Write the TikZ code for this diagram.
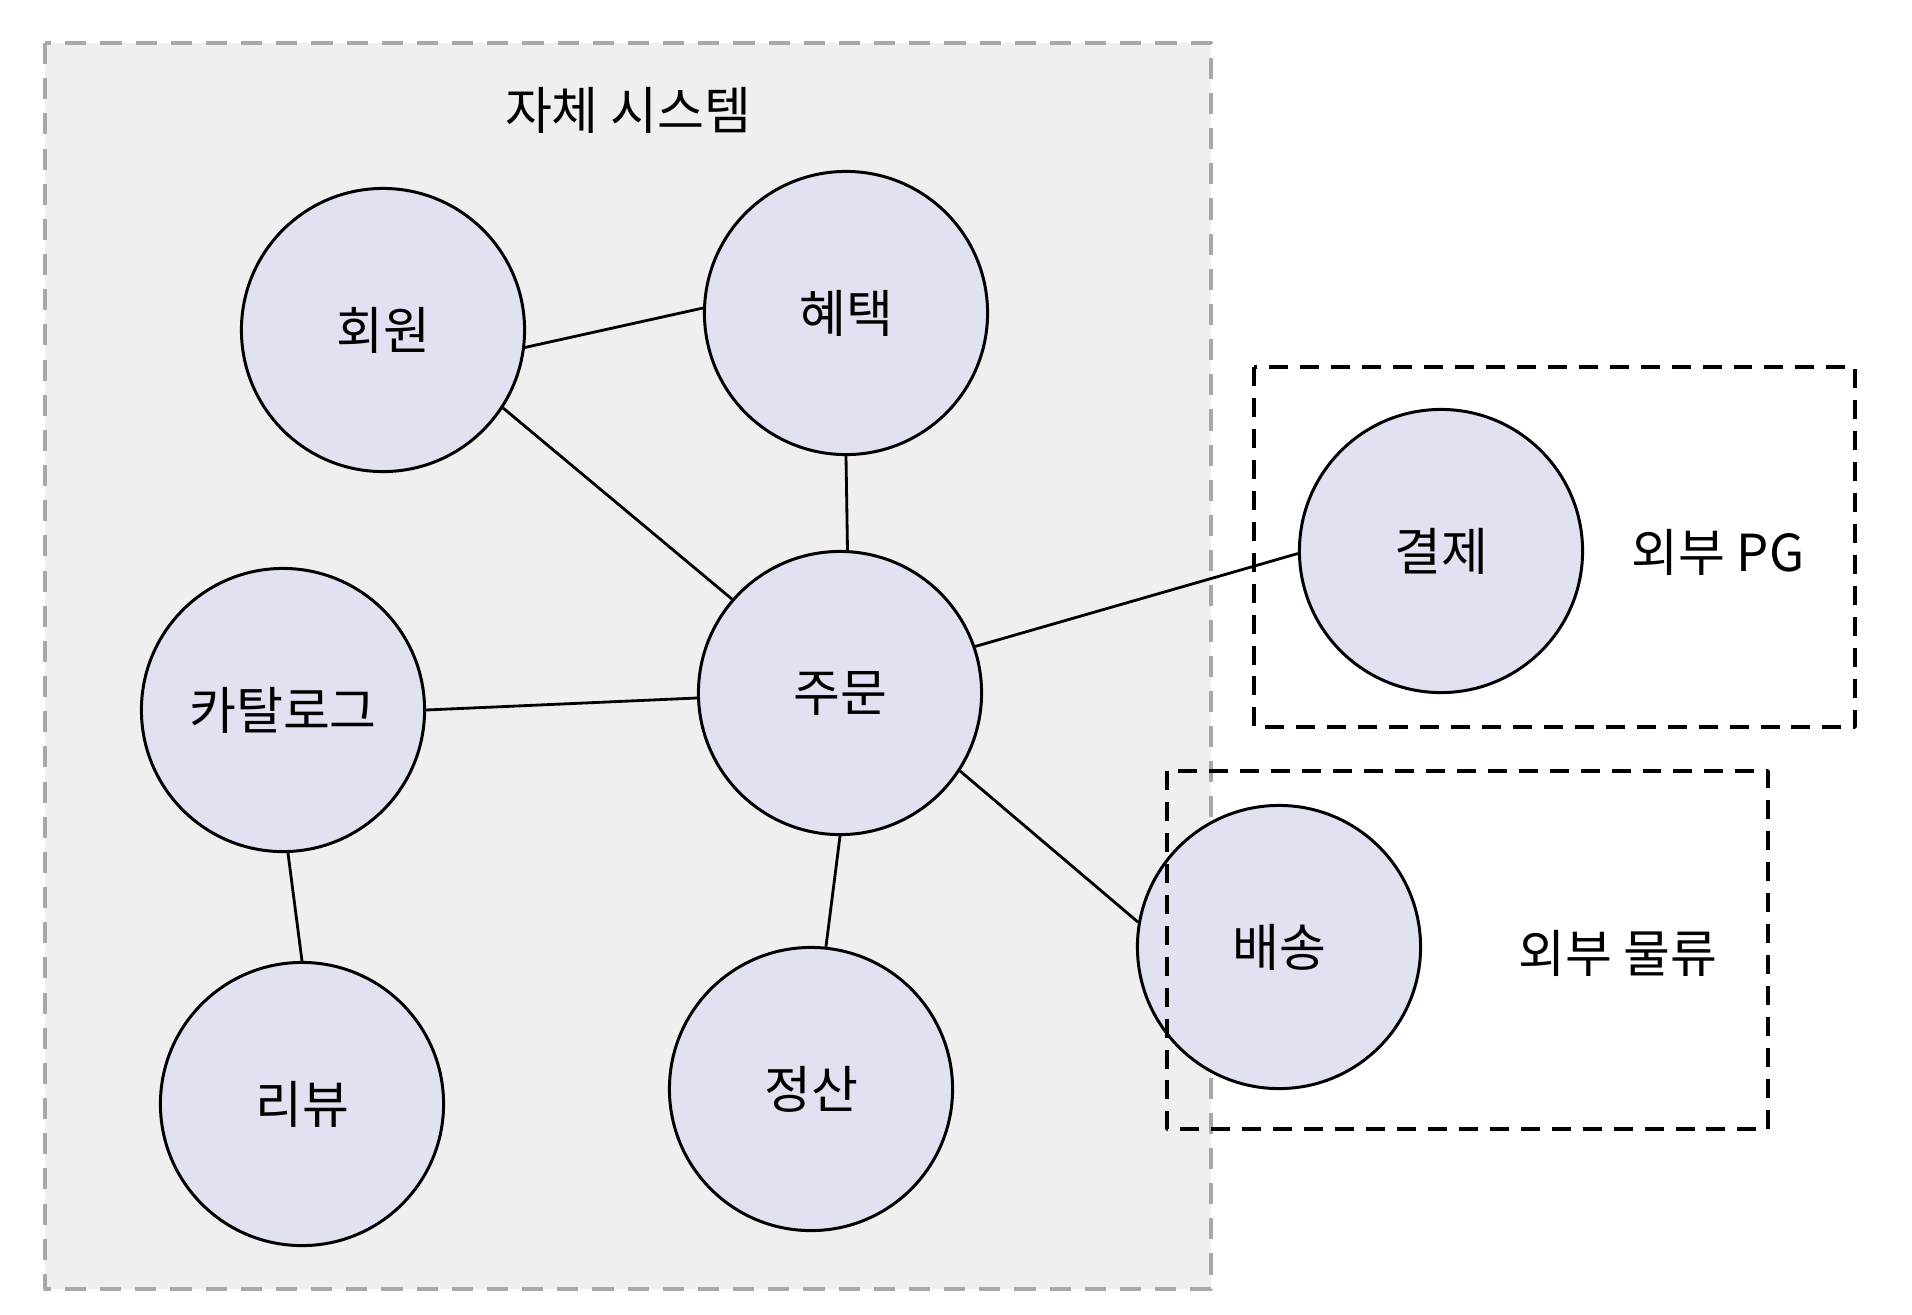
\documentclass[tikz,border=0pt]{standalone}
\usepackage{fontspec}
\setmainfont{Noto Sans CJK KR}
\usepackage{tikz}
\definecolor{sysgray}{HTML}{EFEFEF}
\definecolor{sysline}{HTML}{A8A8A8}
\definecolor{modfill}{HTML}{E0E1F1}
\begin{document}
\begin{tikzpicture}[x=0.01cm,y=-0.01cm,join=round,
  font=\fontsize{14.5pt}{16pt}\selectfont,
  module/.style={circle,draw=black,fill=modfill,line width=0.85pt,minimum size=2.83cm,inner sep=0pt},
  link/.style={line width=0.8pt},
  extbox/.style={draw=black,line width=1pt,dash pattern=on 5.4pt off 3.4pt}] % Modules
        \useasboundingbox (0,0) rectangle (1912,1314);
         \fill[sysgray](45,43) rectangle (1211,1289);
         \draw[sysline,line width=1.1pt,dash pattern=on 6pt off 4pt](45,43) rectangle (1211,1289);
         \node at (628,110) {자체 시스템};
        \node[module] (member) at (383,330) {회원};
        \node[module] (benefit) at (846,313) {혜택};
        \node[module] (order) at (840,693) {주문};
        \node[module] (catalog) at (283,710) {카탈로그};
        \node[module] (review) at (302,1104) {리뷰};
        \node[module] (settle) at (811,1089) {정산};
        \node[module] (pay) at (1441,551) {결제};
        \node[module] (ship) at (1279,947) {배송};
         \draw[link] (member.-7) -- (benefit.178);
         \draw[link] (member.-33) -- (order.139);
         \draw[link] (benefit.270) -- (order.87);
         \draw[link] (catalog.east) -- (order.182);
         \draw[link] (catalog.-88) -- (review.90);
         \draw[link] (order.270) -- (settle.84);
         \draw[link] (order.19) -- (pay.181);
         \draw[link] (order.-33) -- (ship.170);
         \draw[extbox](1254,367) rectangle (1855,727);
         \draw[extbox](1167,771) rectangle (1768,1129);
         \node at (1718,552) {외부 PG};
         \node at (1618,953) {외부 물류};
     \end{tikzpicture}
\end{document}
